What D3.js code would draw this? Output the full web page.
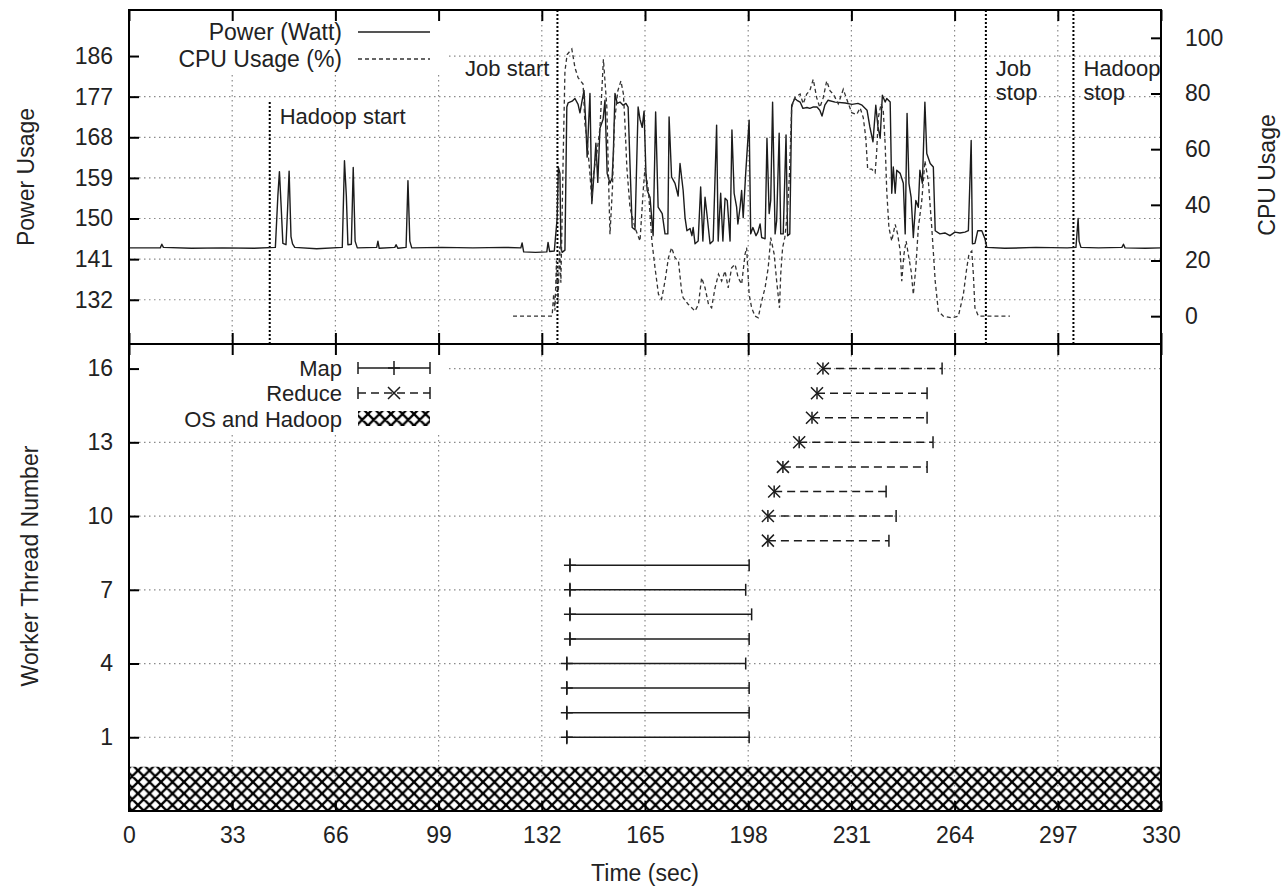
<!DOCTYPE html>
<html>
<head>
<meta charset="utf-8">
<script src="https://cdn.jsdelivr.net/npm/d3@7"></script>
<style>
  body { margin: 0; background: #fff; }
  text { font-family: "Liberation Sans", Arial, sans-serif; fill: #222; }
</style>
</head>
<body>
<script>
//tick values
const timeTicks = [0, 33, 66, 99, 132, 165, 198, 231, 264, 297, 330];
const powerTicks = [132, 141, 150, 159, 168, 177, 186];
const cpuTicks = [0, 20, 40, 60, 80, 100];
const threadTicks = [1, 4, 7, 10, 13, 16];

//events (sec)
const eventTimes = [45, 137, 274, 302];
const eventLabels = [["Hadoop start"], ["Job start"], ["Job", "stop"], ["Hadoop", "stop"]];

//power (time sec, watt)
const powerSeries = [
  [0,143.5],[10,143.5],[10.5,144.3],[11,143.6],[20,143.4],[30,143.5],[40,143.4],[46.8,143.6],
  [47.6,155],[48.1,160.4],[48.7,152],[49.2,144.5],[50.2,144.2],[50.7,152],[51.2,160.5],[51.8,146],
  [52.3,144.4],[53,143.6],[60,143.3],[68.2,143.6],[68.9,162.8],[69.5,155],[70,144.2],[71.1,144.3],
  [71.7,161.3],[72.3,145],[73,143.5],[79.2,143.6],[79.6,145],[80,143.4],[85,143.6],[85.4,144.2],
  [86,143.4],[88.6,143.6],[89.2,158.4],[89.8,145],[90.4,143.5],[100,143.6],[110,143.5],[120,143.6],
  [125.3,143.5],[125.7,144.6],[126.2,142.6],[130,142.5],[133.6,142.6],[134,144.7],[134.5,142.7],[136,142.8],
  [136.9,150],[137.3,161.4],[137.8,160],[138.1,143.5],[138.5,142.5],[139.4,143],[140,174.7],[140.4,175.6],
  [141.7,176],[142.6,176.6],[143.6,175.3],[144.2,173.4],[144.8,175.8],[145.5,178.4],[146,172],[146.5,163.6],
  [146.9,170],[147.4,177.7],[148,153.3],[148.7,160],[149.3,166.7],[149.9,158],[150.6,170],[151.6,172],
  [152.2,176.2],[152.9,160],[153.8,157.8],[154.5,159],[154.9,165],[155.4,177.7],[156.1,175.5],[157,175.8],
  [158,175.1],[158.9,175.5],[159.6,174.7],[160.2,162],[160.9,148],[161.8,147.5],[162.8,174.7],[163.4,172],
  [164.1,170.2],[164.7,173.8],[165.3,160],[165.7,156.2],[166.6,154.7],[167.6,146.2],[168.4,173.6],[169.2,152.5],
  [170.5,151.1],[171.4,146.6],[172.3,146.6],[172.7,172.5],[173.5,159.2],[174.6,157.8],[175.6,155],[176.2,162.2],
  [177.2,156.2],[177.8,150.2],[178.4,147.3],[179.4,147.8],[180,146.2],[180.4,148],[181,144.4],[182,145],
  [182.8,157],[183.5,145],[184.2,154.7],[184.8,151],[185.8,144.4],[186.8,145.1],[187.9,170.7],[188.4,145],
  [189.2,155.6],[189.9,145],[190.6,154.5],[191.3,154],[192.2,145],[192.8,169.6],[193.5,155.6],[194.3,152.5],
  [194.7,148.8],[195.4,152.5],[195.9,156.2],[196.4,150.2],[197.2,160],[198.3,171.8],[198.8,146.6],[199.5,148],
  [200.5,146.2],[201.1,147],[201.8,148.8],[202.3,145.8],[203.4,145.5],[204,167.8],[204.7,151.1],[205.2,154],
  [205.8,175.8],[206.6,146.6],[207.1,149.5],[207.9,168.9],[208.4,146.6],[209.2,146.6],[210.1,168.5],[210.6,146.2],
  [211.3,146.6],[211.9,175.1],[212.9,176.6],[213.6,176.2],[214.6,175.8],[215.5,174.4],[216.8,174.6],[217.7,174.4],
  [218.7,174.7],[220,174.7],[220.9,174],[221.6,172.7],[222.5,175.1],[223.5,176.2],[225.8,175.8],[229,175.6],
  [231.2,175.3],[233.1,175.5],[234.4,175.1],[236,174],[236.9,170.3],[237.9,167],[238.8,175.1],[239.5,170.3],
  [240.2,167.8],[240.9,177.3],[241.8,175.8],[242.3,176.6],[243.4,175.8],[243.9,155.6],[244.4,161.4],[245,155.6],
  [245.5,160.7],[246.6,160],[247.6,157.8],[248.2,146.6],[248.8,173.3],[249.4,157.8],[250.1,154.7],[250.8,145.8],
  [251.6,154],[252.4,152.5],[252.9,160.7],[253.7,157.8],[254.5,175.8],[255.1,164.4],[256.2,162.2],[257.2,161.4],
  [257.8,147.3],[259.3,146.6],[260.9,146.8],[262.5,146.2],[264.1,147],[265.7,146.8],[267.3,147],[268.4,147.3],
  [269.3,167.3],[269.7,144.4],[270.5,144.5],[271.4,147.3],[272.7,147.3],[273.7,145.5],[274.3,143.6],[280,143.4],
  [290,143.6],[300,143.5],[302.8,143.6],[303.5,150],[303.8,145],[304.4,143.6],[310,143.5],[317.5,143.6],
  [318,144.3],[318.5,143.5],[325,143.4],[330,143.5]
];

//cpu usage (time sec, percent)
const cpuSeries = [
  [122.8,0],[135.3,0],[135.8,8],[136.2,2],[136.7,20],[137.2,5],[137.7,25],[138.1,12],[138.8,55],[139.4,88],
  [140.1,94],[141.6,96],[142.6,89.3],[143.6,85.7],[145.2,83.4],[145.8,69],[146.5,63],[147.4,51],[148,41.4],
  [148.5,51],[149.7,59.3],[150.6,67.7],[151.7,92.3],[152.2,84.5],[152.8,75],[153.3,51],[153.8,29.4],[154.6,46.2],
  [155.2,69],[156.3,80.9],[157.3,84.5],[158.1,79.8],[158.6,69],[159.2,53.3],[160.2,39],[161.8,31.8],[163.4,27],
  [164.5,46.2],[165,53.3],[166.1,45],[167.2,27],[168.2,17.4],[169.3,7.9],[170.3,6.1],[171.4,12.6],[172.5,21],
  [173.5,24.6],[174.6,21],[175.7,19.8],[176.7,9],[177.2,6.6],[178.8,4.3],[181,1.8],[182.1,4.3],[183.1,13.8],
  [184.2,10.2],[185.3,4.3],[186.3,3],[187.4,10.2],[188.5,15.1],[189.5,12.6],[190.6,16.2],[191.6,10.2],[192.7,17.4],
  [193.8,18.6],[194.8,13.8],[195.9,11.5],[197,22.3],[197.5,24.6],[198.3,7.8],[199.1,3],[200.2,0],[201.2,-0.6],
  [202.3,5.4],[203.4,10.2],[204.4,17.4],[205.2,28.2],[206.3,22.3],[207.1,12.6],[208,3],[208.4,15.1],[209,24.6],
  [209.7,28.2],[210.5,36.7],[211.2,51],[211.9,75],[212.9,78.5],[214.6,79.8],[215.6,76.3],[216.7,79.8],[217.7,81],
  [218.8,85.1],[219.9,78.5],[220.9,75],[222,78.5],[223.1,84.5],[224.2,80.9],[225.2,79.8],[226.8,76.3],[228.4,81.5],
  [229.5,78],[231.1,73.1],[232.7,72.5],[233.8,74.8],[234.8,71.3],[235.6,64.1],[236.2,52.8],[237.5,52.8],[238.6,51.5],
  [239.1,59.4],[239.6,71.3],[240.5,76.3],[241.2,73.7],[241.8,61.6],[242.3,45],[243,31.8],[243.9,27],[245,33],
  [245.8,29.4],[246.6,23.4],[247.1,12.6],[247.8,22.2],[248.5,27],[249.2,22.2],[250.1,16.2],[250.8,7.8],[251.6,17.4],
  [252.4,31.8],[253.5,41.4],[254.5,55.8],[255.6,48.6],[256.7,31.8],[257.8,12.6],[258.8,1.8],[260.4,0],[263.1,-0.6],
  [265.2,0],[266.8,7.8],[267.9,17.4],[268.6,22.3],[269.5,23.4],[270,15],[270.5,3],[271.6,0],[273.7,0],[281.7,0]
];

//worker threads
const mapThreads = [1, 2, 3, 4, 5, 6, 7, 8];
const mapStart = [140.0, 140.0, 140.0, 140.0, 141.0, 141.0, 141.0, 141.0];
const mapEnd = [198.3, 198.3, 198.3, 197.2, 198.3, 199.1, 197.2, 198.3];
const reduceThreads = [9, 10, 11, 12, 13, 14, 15, 16];
const reduceStart = [204.3, 204.3, 206.3, 209.1, 214.3, 218.4, 220.0, 221.9];
const reduceEnd = [243.0, 245.3, 242.1, 255.2, 257.1, 255.2, 255.2, 260.0];
//os and hadoop band (time range, thread range)
const osTime = [0, 330];
const osThread = [-2, -0.2];

//dimensions
const width = 1281, height = 888;
const pL = 129, pR = 1161, pT = 10, pM = 344, pB = 811;
const ink = "#1c1c1c";

const svg = d3.select("body")
  .append("svg")
  .attr("width", width)
  .attr("height", height);

//cross hatch pattern
const hs = 11.5;
svg.append("defs")
  .append("pattern")
  .attr("id", "cross")
  .attr("patternUnits", "userSpaceOnUse")
  .attr("width", hs)
  .attr("height", hs)
  .append("path")
  .attr("d", `M0,0L${hs},${hs}M${hs},0L0,${hs}M-1,1L1,-1M${hs-1},${hs+1}L${hs+1},${hs-1}M${hs-1},-1L${hs+1},1M-1,${hs-1}L1,${hs+1}`)
  .attr("stroke", "#000")
  .attr("stroke-width", 2.3);

//scales
const x = d3.scaleLinear().domain([0, 330]).range([pL, pR]);
const yPow = d3.scaleLinear().domain([122.2, 196.2]).range([pM, pT]);
const yCpu = d3.scaleLinear().domain([-10, 110]).range([pM, pT]);
const yThr = d3.scaleLinear().domain([-2, 17]).range([pB, pM]);

//grid
const grid = svg.append("g")
  .attr("stroke", "#8a8a8a")
  .attr("stroke-width", 1.2)
  .attr("stroke-dasharray", "1.5,3.5");
grid.selectAll(".vt").data(timeTicks.slice(1, -1)).join("line")
  .attr("x1", d => x(d)).attr("x2", d => x(d))
  .attr("y1", pT).attr("y2", pB);
grid.selectAll(".hp").data(powerTicks).join("line")
  .attr("x1", pL).attr("x2", pR)
  .attr("y1", d => yPow(d)).attr("y2", d => yPow(d));
grid.selectAll(".ht").data(threadTicks).join("line")
  .attr("x1", pL).attr("x2", pR)
  .attr("y1", d => yThr(d)).attr("y2", d => yThr(d));

//legend backgrounds
svg.append("rect").attr("x", pL + 1).attr("y", pT + 1).attr("width", 316).attr("height", 62).attr("fill", "#fff");
svg.append("rect").attr("x", pL + 1).attr("y", pM + 1).attr("width", 316).attr("height", 88).attr("fill", "#fff");

//event lines
const ev = svg.append("g");
ev.selectAll("line").data(eventTimes).join("line")
  .attr("x1", d => x(d)).attr("x2", d => x(d))
  .attr("y1", (d, i) => i === 0 ? yPow(175.8) : pT)
  .attr("y2", pM)
  .attr("stroke", "#000")
  .attr("stroke-width", 2)
  .attr("stroke-dasharray", "2,2");

//event labels
const lab = svg.append("g").attr("font-size", "22px");
eventLabels.forEach((lines, i) => {
  const lx = i === 1 ? x(eventTimes[i]) - 8 : x(eventTimes[i]) + 10;
  const t = lab.append("text")
    .attr("x", lx)
    .attr("y", i === 0 ? 124 : 76)
    .attr("text-anchor", i === 1 ? "end" : "start");
  lines.forEach((s, j) => {
    t.append("tspan")
      .attr("x", lx)
      .attr("dy", j === 0 ? 0 : 24)
      .text(s);
  });
});

//power line
svg.append("path")
  .datum(powerSeries)
  .attr("fill", "none")
  .attr("stroke", ink)
  .attr("stroke-width", 1.4)
  .attr("stroke-linejoin", "round")
  .attr("d", d3.line().x(d => x(d[0])).y(d => yPow(d[1])));

//cpu line
svg.append("path")
  .datum(cpuSeries)
  .attr("fill", "none")
  .attr("stroke", "#333")
  .attr("stroke-width", 1.3)
  .attr("stroke-dasharray", "4,3")
  .attr("d", d3.line().x(d => x(d[0])).y(d => yCpu(d[1])));

//os and hadoop band
svg.append("rect")
  .attr("x", x(osTime[0]))
  .attr("y", yThr(osThread[1]))
  .attr("width", x(osTime[1]) - x(osTime[0]))
  .attr("height", yThr(osThread[0]) - yThr(osThread[1]))
  .attr("fill", "url(#cross)");

//error bar helper
const drawBar = function(g, x1, x2, y, dashed, mark, xm) {
  g.append("line").attr("x1", x1).attr("x2", x2).attr("y1", y).attr("y2", y)
    .attr("stroke-dasharray", dashed ? "8,5" : null);
  g.append("line").attr("x1", x1).attr("x2", x1).attr("y1", y - 6).attr("y2", y + 6);
  g.append("line").attr("x1", x2).attr("x2", x2).attr("y1", y - 6).attr("y2", y + 6);
  if (mark === "+") {
    g.append("path").attr("d", `M${xm - 6},${y}H${xm + 6}M${xm},${y - 7}V${y + 7}`);
  } else {
    g.append("path").attr("d", `M${xm - 6},${y - 6}L${xm + 6},${y + 6}M${xm + 6},${y - 6}L${xm - 6},${y + 6}`);
  }
};

const bars = svg.append("g").attr("stroke", ink).attr("stroke-width", 1.5).attr("fill", "none");
mapThreads.forEach((th, i) => {
  drawBar(bars, x(mapStart[i]), x(mapEnd[i]), yThr(th), false, "+", x(mapStart[i]));
});
reduceThreads.forEach((th, i) => {
  drawBar(bars, x(reduceStart[i]), x(reduceEnd[i]), yThr(th), true, "x", x(reduceStart[i]));
});

//frames
svg.append("rect").attr("x", pL).attr("y", pT).attr("width", pR - pL).attr("height", pM - pT)
  .attr("fill", "none").attr("stroke", "#000").attr("stroke-width", 2);
svg.append("rect").attr("x", pL).attr("y", pM).attr("width", pR - pL).attr("height", pB - pM)
  .attr("fill", "none").attr("stroke", "#000").attr("stroke-width", 2);

//axes
const styleAxis = function(g) {
  g.select(".domain").remove();
  g.selectAll(".tick line").attr("stroke", "#000").attr("stroke-width", 2);
  g.selectAll(".tick text").attr("font-size", "23px").attr("fill", "#222")
    .attr("font-family", "'Liberation Sans', Arial, sans-serif");
};

svg.append("g")
  .attr("transform", `translate(${pL},0)`)
  .call(d3.axisLeft(yPow).tickValues(powerTicks).tickSize(-10).tickPadding(16))
  .call(styleAxis);

svg.append("g")
  .attr("transform", `translate(${pR},0)`)
  .call(d3.axisRight(yCpu).tickValues(cpuTicks).tickSize(-10).tickPadding(24))
  .call(styleAxis);

svg.append("g")
  .attr("transform", `translate(${pL},0)`)
  .call(d3.axisLeft(yThr).tickValues(threadTicks).tickSize(-10).tickPadding(16))
  .call(styleAxis);

svg.append("g")
  .attr("transform", `translate(0,${pB})`)
  .call(d3.axisBottom(x).tickValues(timeTicks).tickSize(-10).tickPadding(16))
  .call(styleAxis);

//inner x ticks
[pT, pM].forEach(yy => {
  svg.append("g")
    .attr("transform", `translate(0,${yy})`)
    .call(d3.axisTop(x).tickValues(timeTicks).tickSize(-11).tickFormat(""))
    .call(styleAxis);
});
svg.append("g")
  .attr("transform", `translate(0,${pM})`)
  .call(d3.axisBottom(x).tickValues(timeTicks).tickSize(-11).tickFormat(""))
  .call(styleAxis);

//axis titles
const titles = svg.append("g").attr("font-size", "23px").attr("text-anchor", "middle");
titles.append("text").attr("transform", "translate(34,177) rotate(-90)").text("Power Usage");
titles.append("text").attr("transform", "translate(1275,175) rotate(-90)").text("CPU Usage");
titles.append("text").attr("transform", "translate(38,566) rotate(-90)").text("Worker Thread Number");
titles.append("text").attr("x", (pL + pR) / 2).attr("y", 881).text("Time (sec)");

//legends
const leg = svg.append("g").attr("font-size", "23px").attr("text-anchor", "end");
leg.append("text").attr("x", 342).attr("y", 40).text("Power (Watt)");
leg.append("text").attr("x", 342).attr("y", 67).text("CPU Usage (%)");
leg.append("line").attr("x1", 358).attr("x2", 430).attr("y1", 32).attr("y2", 32)
  .attr("stroke", ink).attr("stroke-width", 1.4);
leg.append("line").attr("x1", 358).attr("x2", 430).attr("y1", 59).attr("y2", 59)
  .attr("stroke", "#333").attr("stroke-width", 1.3).attr("stroke-dasharray", "4,3");

const legG = svg.append("g").attr("font-size", "22px").attr("text-anchor", "end");
legG.append("text").attr("x", 342).attr("y", 376).text("Map");
legG.append("text").attr("x", 342).attr("y", 401).text("Reduce");
legG.append("text").attr("x", 342).attr("y", 427).text("OS and Hadoop");
const legBars = svg.append("g").attr("stroke", ink).attr("stroke-width", 1.5).attr("fill", "none");
drawBar(legBars, 358, 430, 368, false, "+", 394);
drawBar(legBars, 358, 430, 393, true, "x", 394);
svg.append("rect").attr("x", 358).attr("y", 411).attr("width", 72).attr("height", 15)
  .attr("fill", "url(#cross)");
</script>
</body>
</html>
